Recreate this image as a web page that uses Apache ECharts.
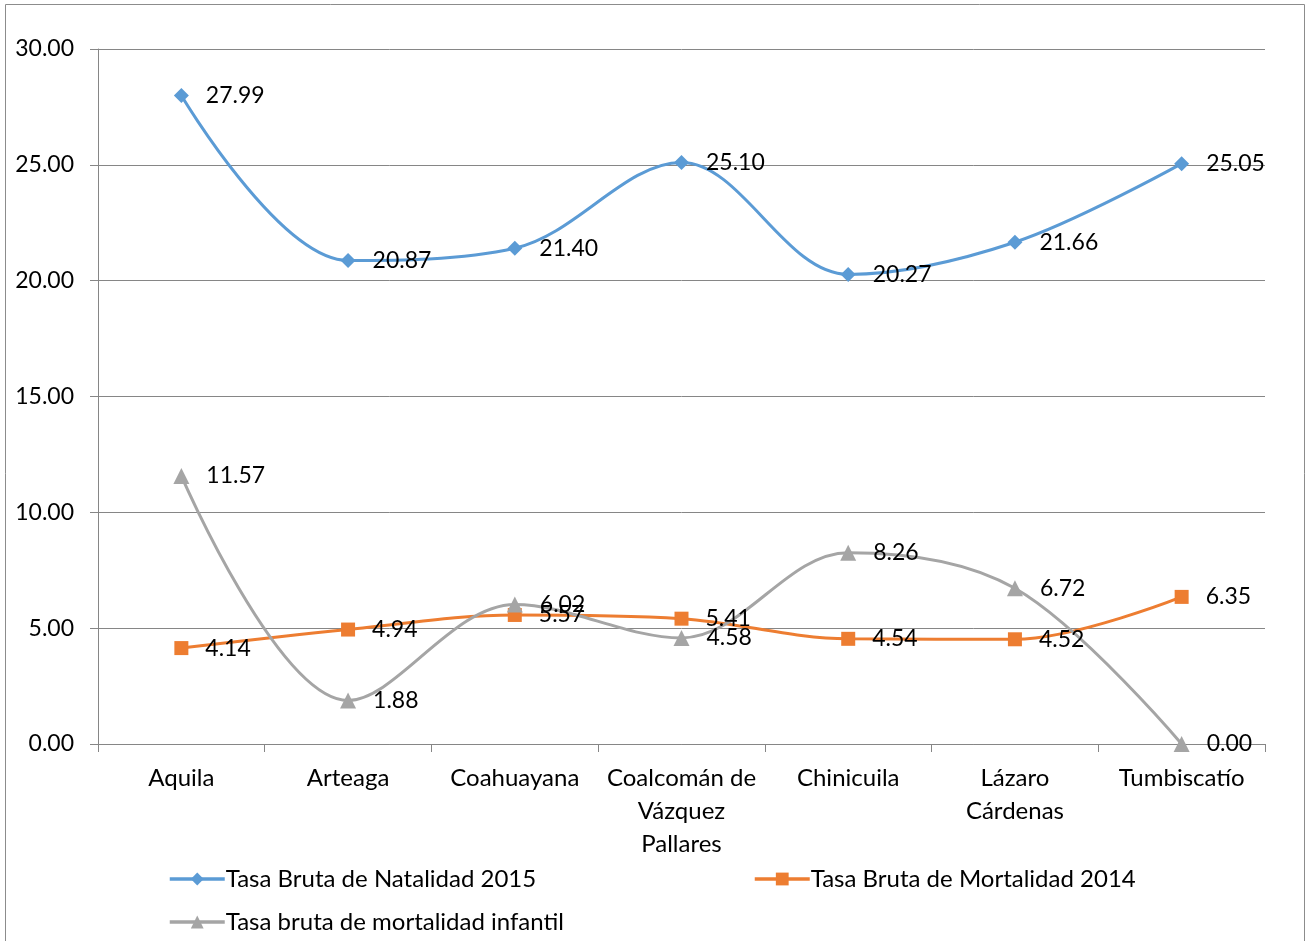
<!DOCTYPE html>
<html>
<head>
<meta charset="utf-8">
<script src="https://cdn.jsdelivr.net/npm/echarts@6/dist/echarts.min.js"></script>
<style>
  html, body { margin: 0; padding: 0; background: #fff; }
  #chart { width: 1307px; height: 941px; }
</style>
</head>
<body>
<div id="chart"></div>
<script>
// municipios
var categories = ['Aquila', 'Arteaga', 'Coahuayana', 'Coalcomán de\nVázquez\nPallares', 'Chinicuila', 'Lázaro\nCárdenas', 'Tumbiscatío'];
var natalidad2015 = [27.99, 20.87, 21.40, 25.10, 20.27, 21.66, 25.05];
var mortalidad2014 = [4.14, 4.94, 5.57, 5.41, 4.54, 4.52, 6.35];
var mortInfantil = [11.57, 1.88, 6.02, 4.58, 8.26, 6.72, 0.00];
var seriesNames = ['Tasa Bruta de Natalidad 2015', 'Tasa Bruta de Mortalidad 2014', 'Tasa bruta de mortalidad infantil'];

var fontFam = 'Lato';
var chart = echarts.init(document.getElementById('chart'));

function lineSerie(name, data, color, symbol, size) {
  return {
    name: name,
    type: 'line',
    smooth: 0.35,
    data: data,
    symbol: symbol,
    symbolSize: size,
    itemStyle: { color: color },
    lineStyle: { color: color, width: 3 },
    label: {
      show: true,
      position: 'right',
      distance: 17,
      color: '#000',
      fontFamily: fontFam,
      fontSize: 23,
      formatter: function (p) { return p.value.toFixed(2); }
    },
    emphasis: { disabled: true },
    z: 3
  };
}

var legendBase = {
  itemWidth: 55,
  itemHeight: 16,
  lineStyle: { width: 3.5 },
  itemStyle: { borderWidth: 0 },
  textStyle: { color: '#000', fontFamily: fontFam, fontSize: 24, padding: [0, 0, 0, -4] },
  selectedMode: false
};

chart.setOption({
  animation: false,
  textStyle: { fontFamily: fontFam },
  graphic: [{
    type: 'rect',
    shape: { x: 5.5, y: 4.5, width: 1299, height: 950 },
    style: { fill: null, stroke: '#8c8c8c', lineWidth: 1 },
    silent: true
  }],
  grid: { left: 98, right: 42, top: 49, bottom: 197 },
  legend: [
    Object.assign({ left: 163, top: 862, data: [seriesNames[0]] }, legendBase),
    Object.assign({ left: 748, top: 862, data: [seriesNames[1]] }, legendBase),
    Object.assign({ left: 163, top: 905, data: [seriesNames[2]] }, legendBase)
  ],
  xAxis: {
    type: 'category',
    data: categories,
    boundaryGap: true,
    axisLine: { lineStyle: { color: '#868686', width: 1 } },
    axisTick: { show: true, interval: 0, length: 8, lineStyle: { color: '#868686' } },
    axisLabel: {
      interval: 0,
      color: '#000',
      fontFamily: fontFam,
      fontSize: 24,
      lineHeight: 33,
      margin: 18
    }
  },
  yAxis: {
    type: 'value',
    min: 0,
    max: 30,
    interval: 5,
    axisLine: { show: true, lineStyle: { color: '#868686', width: 1 } },
    axisTick: { show: true, length: 8, lineStyle: { color: '#868686' } },
    splitLine: { lineStyle: { color: '#868686', width: 1 } },
    axisLabel: {
      color: '#000',
      fontFamily: fontFam,
      fontSize: 23,
      margin: 24,
      formatter: function (v) { return v.toFixed(2); }
    }
  },
  series: [
    lineSerie(seriesNames[0], natalidad2015, '#5B9BD5', 'diamond', 15),
    lineSerie(seriesNames[1], mortalidad2014, '#ED7D31', 'rect', 14),
    lineSerie(seriesNames[2], mortInfantil, '#A5A5A5', 'triangle', 16)
  ]
});
</script>
</body>
</html>
